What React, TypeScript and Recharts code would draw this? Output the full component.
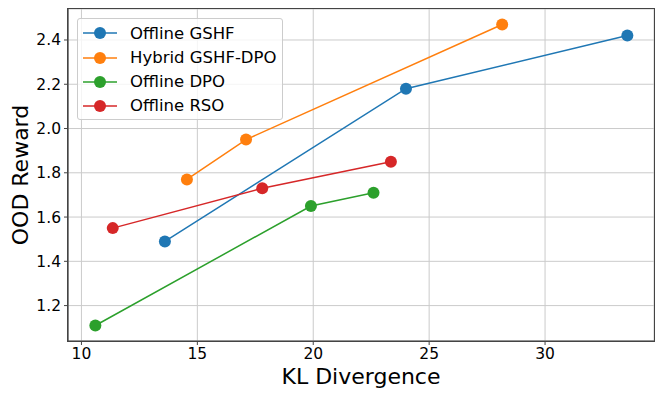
import { LineChart, Line, XAxis, YAxis, CartesianGrid, Legend } from 'recharts';

const FONT = '"DejaVu Sans", Verdana, sans-serif';

const seriesNames = ['Offline GSHF', 'Hybrid GSHF-DPO', 'Offline DPO', 'Offline RSO'];
const seriesColors = ['#1f77b4', '#ff7f0e', '#2ca02c', '#d62728'];

const gshfKL = [13.6, 24.0, 33.55];
const gshfReward = [1.49, 2.18, 2.42];

const hybridKL = [14.55, 17.1, 28.15];
const hybridReward = [1.77, 1.95, 2.47];

const dpoKL = [10.6, 19.9, 22.6];
const dpoReward = [1.11, 1.65, 1.71];

const rsoKL = [11.35, 17.8, 23.35];
const rsoReward = [1.55, 1.73, 1.85];

const xTicks = [10, 15, 20, 25, 30];
const yTicks = [1.2, 1.4, 1.6, 1.8, 2.0, 2.2, 2.4];
const xDomain = [9.42, 34.7];
const yDomain = [1.04, 2.54];

const toPoints = (xs: number[], ys: number[]) => xs.map((x, i) => ({ x, y: ys[i] }));

const series = [
  toPoints(gshfKL, gshfReward),
  toPoints(hybridKL, hybridReward),
  toPoints(dpoKL, dpoReward),
  toPoints(rsoKL, rsoReward),
].map((data, i) => ({ name: seriesNames[i], color: seriesColors[i], data }));

const SPINE = '#444';

function LegendBox() {
  return (
    <div
      style={{
        position: 'absolute',
        left: 77,
        top: 18,
        width: 206,
        height: 102,
        boxSizing: 'border-box',
        border: '1px solid #cccccc',
        borderRadius: 3,
        background: 'rgba(255,255,255,0.8)',
        fontFamily: FONT,
        fontSize: 16.5,
        color: '#000',
      }}
    >
      {series.map((s, i) => (
        <div
          key={s.name}
          style={{
            position: 'absolute',
            left: 5,
            top: 2.3 + i * 24.2,
            height: 24,
            display: 'flex',
            alignItems: 'center',
            whiteSpace: 'nowrap',
          }}
        >
          <svg width={34} height={14} style={{ display: 'block' }}>
            <line x1={0} y1={7} x2={34} y2={7} stroke={s.color} strokeWidth={1.5} />
            <circle cx={17} cy={7} r={6} fill={s.color} />
          </svg>
          <span style={{ marginLeft: 13 }}>{s.name}</span>
        </div>
      ))}
    </div>
  );
}

function XTitle({ viewBox }: any) {
  const cx = viewBox.x + viewBox.width / 2;
  return (
    <text x={cx} y={viewBox.y + 42.5} textAnchor="middle" fontFamily={FONT} fontSize={22} fill="#000">
      KL Divergence
    </text>
  );
}

function YTitle({ viewBox }: any) {
  const cx = viewBox.x + 20;
  const cy = viewBox.y + viewBox.height / 2;
  return (
    <text
      x={cx}
      y={cy}
      transform={`rotate(-90 ${cx} ${cy})`}
      textAnchor="middle"
      dominantBaseline="central"
      fontFamily={FONT}
      fontSize={22}
      fill="#000"
    >
      OOD Reward
    </text>
  );
}

export default function App() {
  const tickStyle = { fontFamily: FONT, fontSize: 15.5, fill: '#000' };
  return (
    <div style={{ position: 'absolute', left: 0, top: 0, width: 664, height: 399, background: '#fff' }}>
      <LineChart width={664} height={399} margin={{ top: 9, right: 10, left: 0, bottom: 0 }}>
        <CartesianGrid stroke="#cbcbcb" strokeWidth={1} />
        <XAxis
          dataKey="x"
          type="number"
          domain={xDomain}
          ticks={xTicks}
          height={58}
          tickSize={4}
          tickMargin={3}
          tick={tickStyle}
          tickLine={{ stroke: SPINE }}
          axisLine={{ stroke: SPINE, strokeWidth: 1.2 }}
          allowDataOverflow
          label={<XTitle />}
        />
        <YAxis
          dataKey="y"
          type="number"
          domain={yDomain}
          ticks={yTicks}
          width={68}
          tickSize={4}
          tickMargin={3}
          tick={tickStyle}
          tickFormatter={(v: number) => v.toFixed(1)}
          tickLine={{ stroke: SPINE }}
          axisLine={{ stroke: SPINE, strokeWidth: 1.2 }}
          allowDataOverflow
          label={<YTitle />}
        />
        <Legend layout="horizontal" verticalAlign="middle" align="center" wrapperStyle={{ position: 'absolute', left: 0, top: 0, width: 0, height: 0 }} content={<LegendBox />} />
        {series.map((s) => (
          <Line
            key={s.name}
            data={s.data}
            dataKey="y"
            name={s.name}
            type="linear"
            stroke={s.color}
            strokeWidth={1.5}
            dot={{ r: 6, fill: s.color, stroke: s.color, strokeWidth: 0 }}
            activeDot={false}
            isAnimationActive={false}
          />
        ))}
      </LineChart>
      {/* frame around the plot area (top and right spines) */}
      <div
        style={{
          position: 'absolute',
          left: 67.4,
          top: 8.4,
          width: 587.2,
          height: 333.2,
          boxSizing: 'border-box',
          border: `1.2px solid ${SPINE}`,
          pointerEvents: 'none',
        }}
      />
    </div>
  );
}
